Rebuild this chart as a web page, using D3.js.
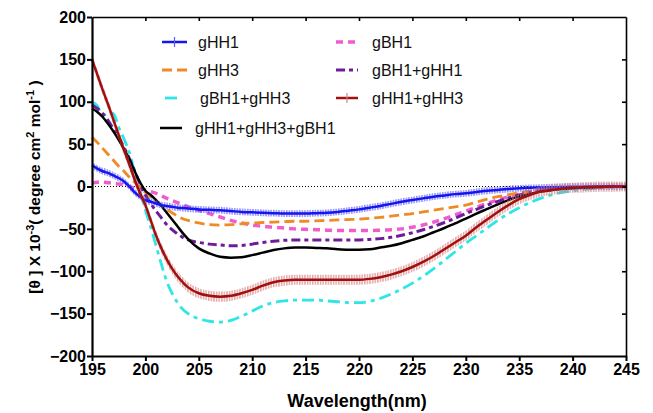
<!DOCTYPE html>
<html><head><meta charset="utf-8">
<script src="https://cdn.jsdelivr.net/npm/d3@7"></script>
<style>
body{margin:0;background:#fff;}
svg{display:block;font-family:"Liberation Sans",Arial,sans-serif;}
</style>
</head><body>
<svg id="chart" width="653" height="413"></svg>
<script>
// ---------- data ----------
const wavelengths = [195,195.5,196,196.5,197,197.5,198,198.5,199,199.5,200,200.5,201,201.5,202,202.5,203,203.5,204,
  205,206,207,208,209,210,211,212,213,214,215,216,217,218,219,220,221,222,223,224,225,226,227,228,229,230,231,232,233,234,235,236,237,238,239,240,241,242,243,244,245];

const gHH1 = [25,21,18,16,13,10,6,0,-7,-12,-16,-18,-20,-22,-23,-24,-25,-25.5,-26,
  -27,-27.5,-28,-29,-30,-30.5,-31,-31.5,-32,-32,-32,-31.5,-31,-30,-28.5,-27,-25,-23,-20.5,-18,-16,-14,-12,-10.5,-9,-8,-6.5,-5,-4,-3,-2.2,-1.6,-1.2,-0.8,-0.5,-0.3,-0.2,-0.1,0,0,0];

const gHH3 = [58,52,45,38,31,24,18,11,5,-1,-7,-12,-17,-22,-27,-31,-35,-38,-40,
  -43,-45,-45.5,-45,-44,-43,-42.5,-42,-41.5,-41,-41,-40.5,-40,-39.5,-39,-38.5,-37.5,-36.5,-35,-33.5,-32,-30,-28,-26,-24,-22,-18.5,-15,-12,-9.5,-7.5,-5.5,-4,-3,-2,-1.5,-1,-0.6,-0.3,-0.1,0];

const gBH1_gHH3 = [100,95,84,87,86,70,56,40,17,-5,-28,-48,-70,-92,-112,-126,-137,-145,-150,
  -156,-159,-160,-158,-153,-147,-141,-137,-135,-134,-134,-134,-135,-136,-137,-137,-135.5,-132,-127,-121,-114,-106,-97,-87,-77,-67,-58,-49,-40,-32,-25,-19,-14,-10,-7,-5,-3.5,-2.2,-1.2,-0.5,0];

const gHH1_gHH3_gBH1 = [92,88,82,74,65,55,44,32,18,5,-5,-10,-16,-23,-31,-39,-47,-55,-62,
  -73,-79,-83,-84,-83.5,-81,-78,-75,-73,-72,-72,-72.5,-73,-74,-74.5,-74.5,-74,-72,-70,-67,-63,-59,-54,-49,-43.5,-38,-32,-26.5,-21,-16,-12,-9,-6,-4.5,-3,-2,-1.3,-0.8,-0.4,-0.2,0];

const gBH1 = [4,5,5,4.5,4,3,2,0,-2,-3,-4,-6,-8,-11,-14,-16.5,-19,-21.5,-24,
  -28,-32,-36,-40,-43,-45.5,-47,-48,-49,-50,-50.5,-51,-51.5,-52,-52,-52,-52,-51.5,-51,-50,-48,-45.5,-42,-38,-33.5,-29,-24.5,-20,-16,-12,-9,-6.5,-4.5,-3,-2,-1.4,-0.9,-0.5,-0.2,-0.1,0];

const gBH1_gHH1 = [96,92,86,78,68,58,46,33,18,3,-10,-20,-29,-37,-45,-51,-56,-60,-63,
  -66,-68,-69,-70,-69.5,-68,-66,-64.5,-63.5,-63,-63,-63,-63,-63,-63,-63,-62.5,-61.5,-60,-57.5,-54.5,-51,-47,-42.5,-37.5,-32,-27,-22,-17.5,-13.5,-10,-7,-5,-3.5,-2.5,-1.7,-1.1,-0.6,-0.3,-0.1,0];

const gHH1_gHH3 = [150,132,114,97,79,61,43,26,8,-8,-22,-40,-58,-73,-86,-97,-106,-113,-119,
  -126,-129,-130,-129,-126,-122,-117,-113,-111,-110,-110,-110,-110,-110,-110,-110,-109,-107,-104,-100,-95,-89,-82,-74,-66,-58,-48,-39,-30,-22,-15,-10,-6,-4,-2.5,-1.5,-1,-0.5,-0.2,-0.1,0];

// error magnitudes (same units as values)
const errGHH1 = 4;
const errGHH1_gHH3 = 6;

const xTicks = [195,200,205,210,215,220,225,230,235,240,245];
const yTicks = [-200,-150,-100,-50,0,50,100,150,200];

const seriesNames = ["gHH1","gHH3","gBH1+gHH3","gHH1+gHH3+gBH1","gBH1","gBH1+gHH1","gHH1+gHH3"];
const seriesValues = [gHH1,gHH3,gBH1_gHH3,gHH1_gHH3_gBH1,gBH1,gBH1_gHH1,gHH1_gHH3];

// ---------- styles ----------
const styles = {
  "gHH1":            {color:"#1515f0", width:2.5, dash:null, err:errGHH1, hatch:"#5c5cf2"},
  "gHH3":            {color:"#f08a24", width:2.8, dash:"10,5"},
  "gBH1+gHH3":       {color:"#2ee6e6", width:2.8, dash:"12,5,4,5"},
  "gHH1+gHH3+gBH1":  {color:"#000000", width:2.5, dash:null},
  "gBH1":            {color:"#ef5ccd", width:3.5, dash:"7,5"},
  "gBH1+gHH1":       {color:"#6e1c9c", width:3, dash:"9,4,4,4"},
  "gHH1+gHH3":       {color:"#a01010", width:2.5, dash:null, err:errGHH1_gHH3, hatch:"#d88080"}
};
const drawOrder = ["gBH1+gHH3","gBH1","gHH3","gBH1+gHH1","gHH1+gHH3+gBH1","gHH1","gHH1+gHH3"];

// ---------- chart ----------
const svg = d3.select("#chart");
const x = d3.scaleLinear().domain([195,245]).range([92,626]);
const y = d3.scaleLinear().domain([-200,200]).range([356,17]);

const defs = svg.append("defs");
function hatch(id, color){
  const p = defs.append("pattern").attr("id",id).attr("patternUnits","userSpaceOnUse")
    .attr("width",2.6).attr("height",10);
  p.append("line").attr("x1",0.8).attr("x2",0.8).attr("y1",0).attr("y2",10)
    .attr("stroke",color).attr("stroke-width",1.1);
}

// zero line
svg.append("line").attr("x1",x(195)).attr("x2",x(245)).attr("y1",y(0)).attr("y2",y(0))
  .attr("stroke","#000").attr("stroke-width",1).attr("stroke-dasharray","1,2");

const line = d3.line().x((d,i)=>x(wavelengths[i])).y(d=>y(d)).curve(d3.curveMonotoneX);

drawOrder.forEach(name=>{
  const idx = seriesNames.indexOf(name);
  const vals = seriesValues[idx];
  const st = styles[name];
  if (st.err){
    const pid = "hatch"+idx;
    hatch(pid, st.hatch);
    const area = d3.area().x((d,i)=>x(wavelengths[i]))
      .y0(d=>y(d-st.err)).y1(d=>y(d+st.err)).curve(d3.curveMonotoneX);
    svg.append("path").datum(vals).attr("d",area).attr("fill","url(#"+pid+")").attr("opacity",0.95);
  }
  svg.append("path").datum(vals).attr("d",line).attr("fill","none")
    .attr("stroke",st.color).attr("stroke-width",st.width)
    .attr("stroke-dasharray",st.dash).attr("stroke-linejoin","round");
});

// axes
const fmt = d3.format("d");
const gx = svg.append("g").attr("transform",`translate(0,${y(-200)})`)
  .call(d3.axisBottom(x).tickValues(xTicks).tickSize(5).tickSizeOuter(0).tickPadding(3).tickFormat(fmt));
const gy = svg.append("g").attr("transform",`translate(${x(195)},0)`)
  .call(d3.axisLeft(y).tickValues(yTicks).tickSize(5).tickSizeOuter(0).tickPadding(1).tickFormat(fmt));
const gt = svg.append("g").attr("transform",`translate(0,${y(200)})`)
  .call(d3.axisBottom(x).tickValues(xTicks.slice(1,-1)).tickSize(4).tickSizeOuter(0).tickFormat(""));
const gr = svg.append("g").attr("transform",`translate(${x(245)},0)`)
  .call(d3.axisLeft(y).tickValues(yTicks.slice(1,-1)).tickSize(4).tickSizeOuter(0).tickFormat(""));

[gx,gy].forEach(g=>{
  g.select(".domain").attr("stroke","#000").attr("stroke-width",2.2);
  g.selectAll(".tick line").attr("stroke","#000").attr("stroke-width",2);
  g.selectAll(".tick text").attr("fill","#000").attr("font-size","16px").attr("font-weight","bold")
    .attr("font-family","'Liberation Sans',Arial,sans-serif");
});
[gt,gr].forEach(g=>{
  g.select(".domain").attr("stroke","#000").attr("stroke-width",1.6);
  g.selectAll(".tick line").attr("stroke","#000").attr("stroke-width",1.6);
});

// axis titles
svg.append("text").attr("x",357).attr("y",407).attr("text-anchor","middle")
  .attr("font-size","18px").attr("font-weight","bold").text("Wavelength(nm)");

const yl = svg.append("text").attr("transform","translate(40,187) rotate(-90)")
  .attr("text-anchor","middle").attr("font-size","15.5px").attr("font-weight","bold");
yl.append("tspan").text("[θ ] X 10");
yl.append("tspan").attr("dy",-6).attr("font-size","11px").text("-3");
yl.append("tspan").attr("dy",6).text("( degree cm");
yl.append("tspan").attr("dy",-6).attr("font-size","11px").text("2");
yl.append("tspan").attr("dy",6).text(" mol");
yl.append("tspan").attr("dy",-6).attr("font-size","11px").text("-1");
yl.append("tspan").attr("dy",6).text(" )");

// legend
const legendLayout = [
  {name:"gHH1", x1:162, x2:187, tx:198, y:42},
  {name:"gHH3", x1:162, x2:187, tx:198, y:70},
  {name:"gBH1+gHH3", x1:165, x2:182, tx:200, y:98},
  {name:"gHH1+gHH3+gBH1", x1:160, x2:182, tx:195, y:128},
  {name:"gBH1", x1:336, x2:358, tx:372, y:42},
  {name:"gBH1+gHH1", x1:336, x2:358, tx:372, y:70},
  {name:"gHH1+gHH3", x1:336, x2:358, tx:372, y:98}
];
const leg = svg.append("g");
legendLayout.forEach(l=>{
  const st = styles[l.name];
  leg.append("line").attr("x1",l.x1).attr("x2",l.x2).attr("y1",l.y).attr("y2",l.y)
    .attr("stroke",st.color).attr("stroke-width",st.width).attr("stroke-dasharray",st.dash);
  if (st.err){
    const cx=(l.x1+l.x2)/2;
    leg.append("line").attr("x1",cx).attr("x2",cx).attr("y1",l.y-5).attr("y2",l.y+5)
      .attr("stroke",st.hatch).attr("stroke-width",1.2);
  }
  leg.append("text").attr("x",l.tx).attr("y",l.y+5.5).attr("font-size","16px").attr("fill","#111").text(l.name);
});
</script>
</body></html>
